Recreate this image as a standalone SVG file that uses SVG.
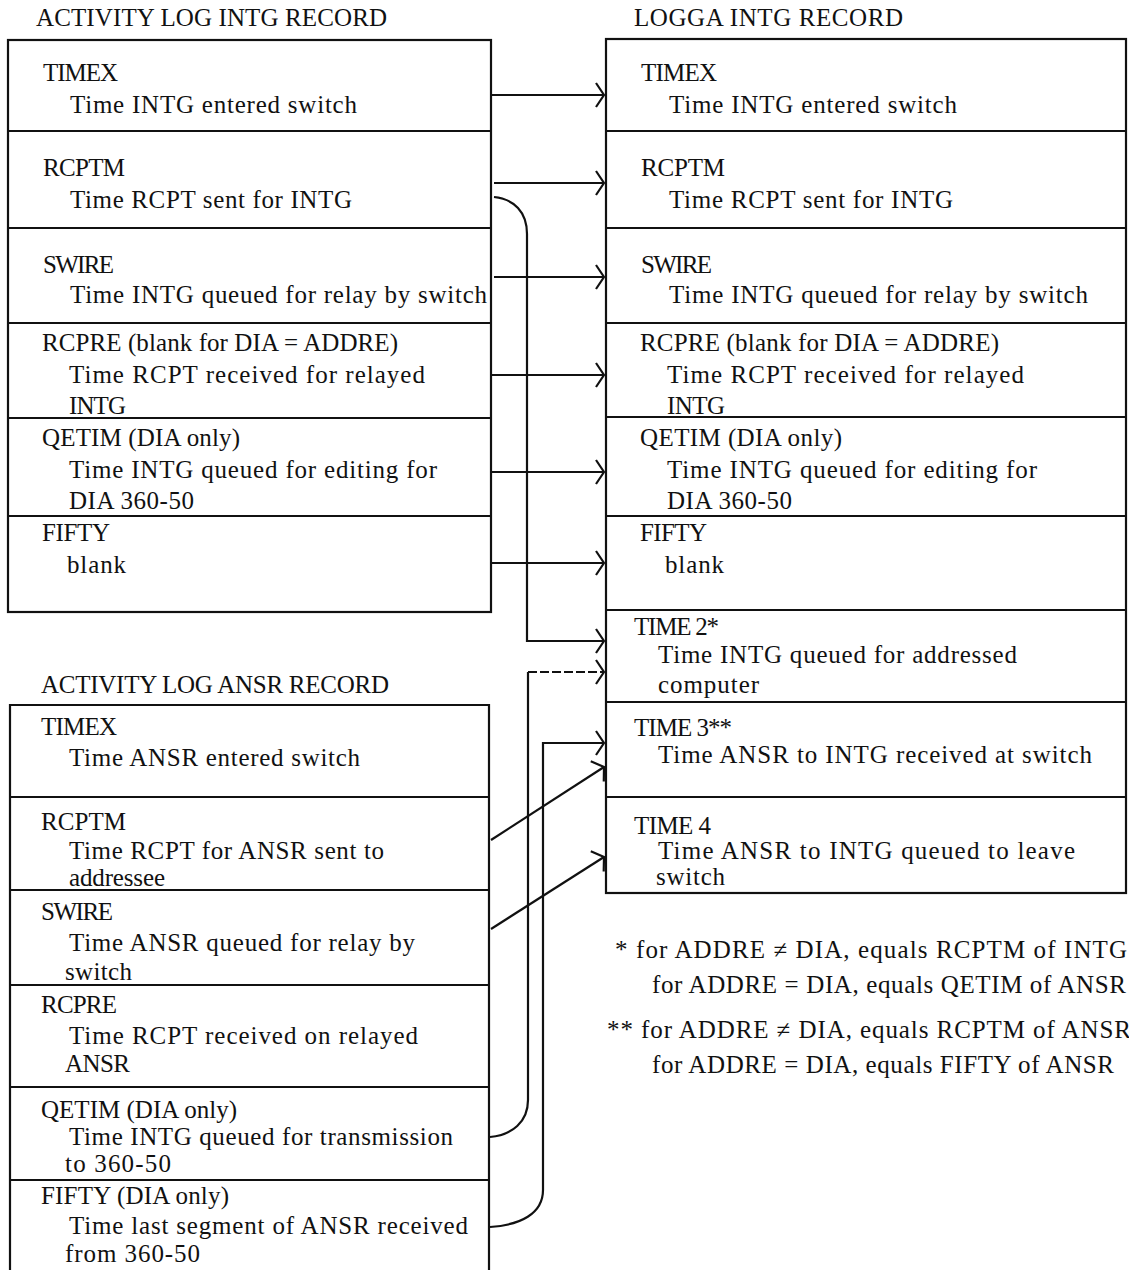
<svg xmlns="http://www.w3.org/2000/svg" width="1129" height="1270" viewBox="0 0 1129 1270">
<style>
text { font-family: "Liberation Serif", "Times New Roman", serif; font-size: 25px; fill: #111; }
.box { fill: none; stroke: #111; stroke-width: 2.2; }
.div { stroke: #111; stroke-width: 2; }
.conn { fill: none; stroke: #111; stroke-width: 2.2; }
.dash { stroke-dasharray: 9 3; }
</style>
<defs>
<marker id="arr" markerUnits="userSpaceOnUse" markerWidth="20" markerHeight="30" refX="0" refY="0" viewBox="-12 -15 16 30" orient="auto">
<path d="M -8 -12 L 0 0 L -8 12" fill="none" stroke="#111" stroke-width="2.2"/>
</marker>
</defs>
<rect width="1129" height="1270" fill="#fff"/>

<g id="intg-record">
<text x="36" y="26" textLength="351">ACTIVITY LOG INTG RECORD</text>
<rect class="box" x="8" y="40" width="483" height="572"/>
<line class="div" x1="8" y1="131" x2="491" y2="131"/>
<line class="div" x1="8" y1="228" x2="491" y2="228"/>
<line class="div" x1="8" y1="323" x2="491" y2="323"/>
<line class="div" x1="8" y1="418" x2="491" y2="418"/>
<line class="div" x1="8" y1="516" x2="491" y2="516"/>
<g id="intg-timex"><text x="43" y="81" textLength="75">TIMEX</text><text x="70" y="113" textLength="287">Time INTG entered switch</text></g>
<g id="intg-rcptm"><text x="43" y="176" textLength="82">RCPTM</text><text x="70" y="208" textLength="282">Time RCPT sent for INTG</text></g>
<g id="intg-swire"><text x="43" y="273" textLength="71">SWIRE</text><text x="70" y="303" textLength="417">Time INTG queued for relay by switch</text></g>
<g id="intg-rcpre"><text x="42" y="351" textLength="356">RCPRE (blank for DIA = ADDRE)</text><text x="69" y="383" textLength="356">Time RCPT received for relayed</text><text x="69" y="414" textLength="57">INTG</text></g>
<g id="intg-qetim"><text x="42" y="446" textLength="198">QETIM (DIA only)</text><text x="69" y="478" textLength="368">Time INTG queued for editing for</text><text x="69" y="509" textLength="125">DIA 360-50</text></g>
<g id="intg-fifty"><text x="42" y="541" textLength="68">FIFTY</text><text x="67" y="573" textLength="59">blank</text></g>
</g>

<g id="logga-record">
<text x="634" y="26" textLength="269">LOGGA  INTG  RECORD</text>
<rect class="box" x="606" y="39" width="520" height="854"/>
<line class="div" x1="606" y1="131" x2="1126" y2="131"/>
<line class="div" x1="606" y1="228" x2="1126" y2="228"/>
<line class="div" x1="606" y1="323" x2="1126" y2="323"/>
<line class="div" x1="606" y1="417" x2="1126" y2="417"/>
<line class="div" x1="606" y1="516" x2="1126" y2="516"/>
<line class="div" x1="606" y1="610" x2="1126" y2="610"/>
<line class="div" x1="606" y1="702" x2="1126" y2="702"/>
<line class="div" x1="606" y1="797" x2="1126" y2="797"/>
<g id="logga-timex"><text x="641" y="81" textLength="76">TIMEX</text><text x="669" y="113" textLength="288">Time INTG entered switch</text></g>
<g id="logga-rcptm"><text x="641" y="176" textLength="84">RCPTM</text><text x="669" y="208" textLength="284">Time RCPT sent for INTG</text></g>
<g id="logga-swire"><text x="641" y="273" textLength="71">SWIRE</text><text x="669" y="303" textLength="419">Time INTG queued for relay by switch</text></g>
<g id="logga-rcpre"><text x="640" y="351" textLength="359">RCPRE (blank for DIA = ADDRE)</text><text x="667" y="383" textLength="357">Time RCPT received for relayed</text><text x="667" y="414" textLength="58">INTG</text></g>
<g id="logga-qetim"><text x="640" y="446" textLength="202">QETIM  (DIA only)</text><text x="667" y="478" textLength="370">Time INTG queued for editing for</text><text x="667" y="509" textLength="125">DIA 360-50</text></g>
<g id="logga-fifty"><text x="640" y="541" textLength="67">FIFTY</text><text x="665" y="573" textLength="59">blank</text></g>
<g id="logga-time2"><text x="634" y="635" textLength="85">TIME 2*</text><text x="658" y="663" textLength="359">Time INTG queued for addressed</text><text x="658" y="693" textLength="101">computer</text></g>
<g id="logga-time3"><text x="634" y="736" textLength="98">TIME 3**</text><text x="658" y="763" textLength="434">Time ANSR to INTG received at switch</text></g>
<g id="logga-time4"><text x="634" y="834" textLength="77">TIME 4</text><text x="658" y="859" textLength="417">Time ANSR to INTG  queued to leave</text><text x="656" y="885" textLength="69">switch</text></g>
</g>

<g id="ansr-record">
<text x="41" y="693" textLength="348">ACTIVITY LOG ANSR RECORD</text>
<path class="box" d="M 10 1272 L 10 705 L 489 705 L 489 1272"/>
<line class="div" x1="10" y1="797" x2="489" y2="797"/>
<line class="div" x1="10" y1="890" x2="489" y2="890"/>
<line class="div" x1="10" y1="985" x2="489" y2="985"/>
<line class="div" x1="10" y1="1087" x2="489" y2="1087"/>
<line class="div" x1="10" y1="1180" x2="489" y2="1180"/>
<g id="ansr-timex"><text x="41" y="735" textLength="76">TIMEX</text><text x="69" y="766" textLength="291">Time ANSR entered switch</text></g>
<g id="ansr-rcptm"><text x="41" y="830" textLength="85">RCPTM</text><text x="69" y="859" textLength="315">Time RCPT for ANSR sent to</text><text x="69" y="886" textLength="96">addressee</text></g>
<g id="ansr-swire"><text x="41" y="920" textLength="72">SWIRE</text><text x="69" y="951" textLength="346">Time ANSR queued for relay by</text><text x="65" y="980" textLength="67">switch</text></g>
<g id="ansr-rcpre"><text x="41" y="1013" textLength="76">RCPRE</text><text x="69" y="1044" textLength="349">Time RCPT received on relayed</text><text x="65" y="1072" textLength="65">ANSR</text></g>
<g id="ansr-qetim"><text x="41" y="1118" textLength="196">QETIM (DIA only)</text><text x="69" y="1145" textLength="384">Time INTG queued for transmission</text><text x="65" y="1172" textLength="106">to 360-50</text></g>
<g id="ansr-fifty"><text x="41" y="1204" textLength="188">FIFTY (DIA only)</text><text x="69" y="1234" textLength="399">Time last segment of ANSR received</text><text x="65" y="1262" textLength="135">from 360-50</text></g>
</g>

<g id="footnotes">
<text x="615" y="958" textLength="512">* for ADDRE ≠ DIA, equals RCPTM of INTG</text>
<text x="652" y="993" textLength="474">for ADDRE =  DIA, equals QETIM of ANSR</text>
<text x="607" y="1038" textLength="524">** for ADDRE ≠  DIA, equals RCPTM of ANSR</text>
<text x="652" y="1073" textLength="462">for ADDRE = DIA, equals FIFTY of ANSR</text>
</g>

<g id="connectors">
<path class="conn" d="M 492 95 H 604" marker-end="url(#arr)"/>
<path class="conn" d="M 494 183 H 604" marker-end="url(#arr)"/>
<path class="conn" d="M 494 277 H 604" marker-end="url(#arr)"/>
<path class="conn" d="M 491 375 H 604" marker-end="url(#arr)"/>
<path class="conn" d="M 491 472 H 604" marker-end="url(#arr)"/>
<path class="conn" d="M 491 563 H 604" marker-end="url(#arr)"/>
<path class="conn" d="M 494 197 C 514 199 527 212 527 234 V 641 H 604" marker-end="url(#arr)"/>
<path class="conn" d="M 490 1137 C 512 1135 528 1122 528 1100 V 672"/>
<path class="conn dash" d="M 528 672 H 604" marker-end="url(#arr)"/>
<path class="conn" d="M 490 1227 C 520 1225 543 1214 543 1190 V 743 H 604" marker-end="url(#arr)"/>
<path class="conn" d="M 491 840 L 604 767" marker-end="url(#arr)"/>
<path class="conn" d="M 491 929 L 604 857" marker-end="url(#arr)"/>
</g>
</svg>
